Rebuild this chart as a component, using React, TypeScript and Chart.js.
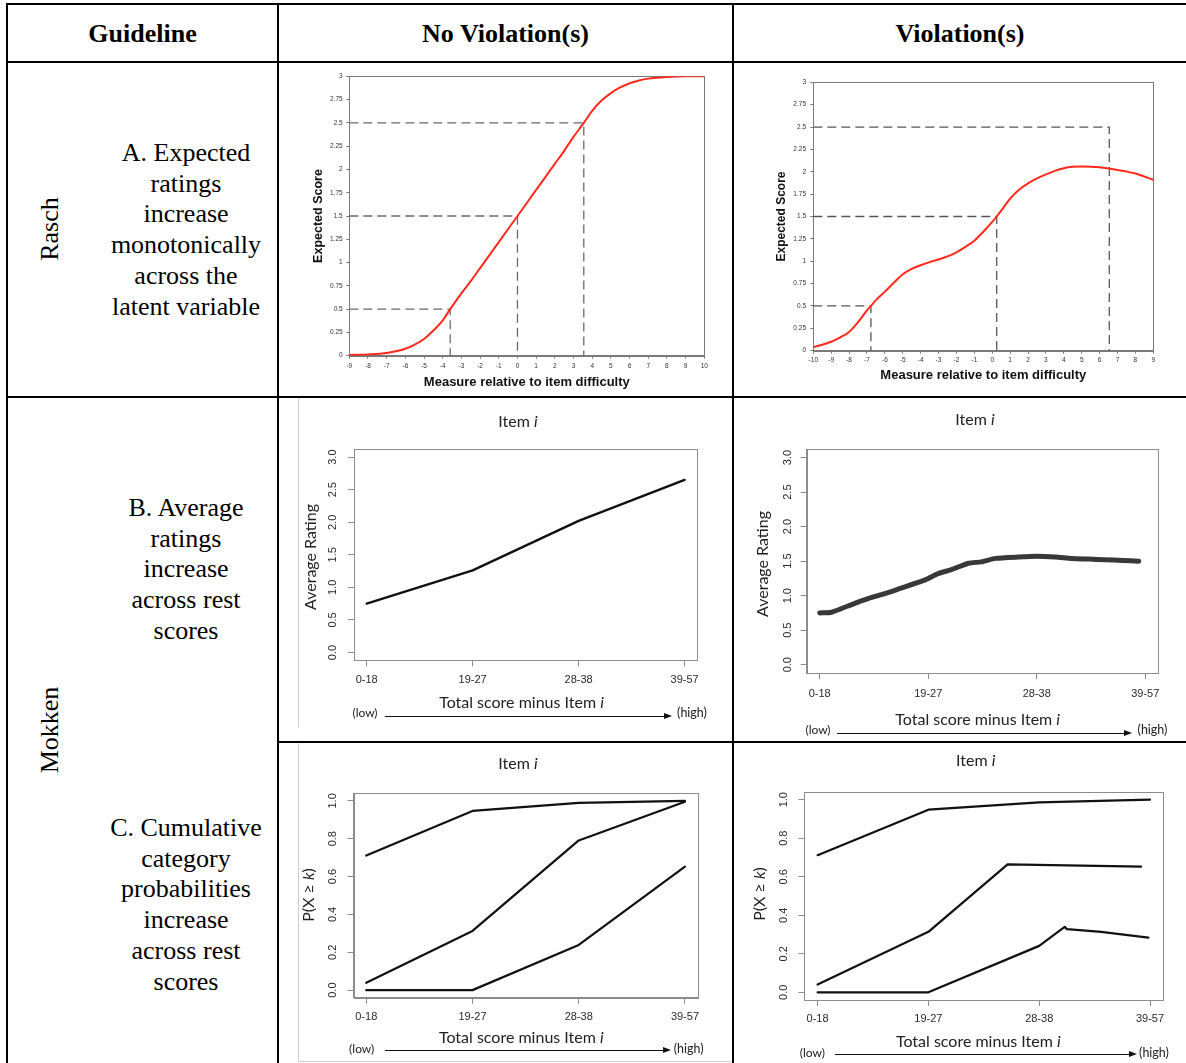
import React, { useEffect, useRef } from "react";
import { Chart, registerables } from "chart.js";

Chart.register(...registerables);

// ---------------- Data ----------------
// Rasch (A) — no violation
const raschMeasureNoViol = [-9, -8, -7, -6, -5.5, -5, -4.5, -4, -3.6, -3, -2.5, -2, -1.5, -1, -0.5, 0, 0.5, 1, 1.5, 2, 2.5, 3, 3.55, 4, 4.5, 5, 5.5, 6, 6.5, 7, 8, 9, 10];
const raschScoreNoViol = [0.007, 0.014, 0.03, 0.075, 0.12, 0.18, 0.27, 0.38, 0.5, 0.67, 0.8, 0.94, 1.08, 1.22, 1.36, 1.5, 1.64, 1.78, 1.92, 2.06, 2.2, 2.35, 2.5, 2.63, 2.74, 2.82, 2.88, 2.925, 2.955, 2.975, 2.993, 3.0, 3.0];
// Rasch (A) — violation
const raschMeasureViol = [-10, -9, -8.5, -8, -7.5, -7, -6.78, -6.5, -6, -5.5, -5, -4.5, -4, -3.5, -3, -2.5, -2, -1.5, -1, -0.5, 0, 0.25, 0.5, 1, 1.5, 2, 2.5, 3, 3.5, 4, 4.5, 5, 6, 7, 8, 9];
const raschScoreViol = [0.04, 0.1, 0.15, 0.21, 0.32, 0.45, 0.5, 0.565, 0.66, 0.76, 0.855, 0.915, 0.955, 0.99, 1.02, 1.055, 1.1, 1.16, 1.23, 1.33, 1.44, 1.5, 1.565, 1.7, 1.8, 1.87, 1.925, 1.97, 2.01, 2.04, 2.055, 2.06, 2.05, 2.02, 1.98, 1.91];
const raschGuideLevels = [0.5, 1.5, 2.5];
const raschGuideMeasuresNoViol = [-3.6, 0, 3.55];
const raschGuideMeasuresViol = [-6.78, 0.25, 6.54];
const raschTicksNoViol = [-9, -8, -7, -6, -5, -4, -3, -2, -1, 0, 1, 2, 3, 4, 5, 6, 7, 8, 9, 10];
const raschTicksViol = [-10, -9, -8, -7, -6, -5, -4, -3, -2, -1, 0, 1, 2, 3, 4, 5, 6, 7, 8, 9];
const raschScoreTicks = [0, 0.25, 0.5, 0.75, 1, 1.25, 1.5, 1.75, 2, 2.25, 2.5, 2.75, 3];

// Mokken (B, C)
const restScoreGroups = ["0-18", "19-27", "28-38", "39-57"];
const restScorePositions = [1, 2, 3, 4];
const avgRatingTicks = [0, 0.5, 1, 1.5, 2, 2.5, 3];
const probTicks = [0, 0.2, 0.4, 0.6, 0.8, 1];

const avgRatingNoViol = [0.75, 1.26, 2.02, 2.65];
const avgRatingViolPos = [1, 1.11, 1.26, 1.45, 1.6, 1.75, 1.94, 2, 2.09, 2.22, 2.37, 2.49, 2.62, 2.83, 3, 3.17, 3.32, 3.48, 3.63, 3.79, 3.94];
const avgRatingViol = [0.75, 0.76, 0.85, 0.96, 1.03, 1.11, 1.21, 1.25, 1.32, 1.38, 1.47, 1.49, 1.54, 1.56, 1.57, 1.56, 1.54, 1.53, 1.52, 1.51, 1.5];

const cumProbNoViolK1 = [0.711, 0.947, 0.989, 1.0];
const cumProbNoViolK2 = [0.039, 0.313, 0.791, 0.995];
const cumProbNoViolK3 = [0, 0, 0.239, 0.653];

const cumProbViolK1Pos = [1, 2, 3, 4];
const cumProbViolK1 = [0.712, 0.948, 0.986, 1.0];
const cumProbViolK2Pos = [1, 2, 2.715, 3.92];
const cumProbViolK2 = [0.04, 0.314, 0.664, 0.653];
const cumProbViolK3Pos = [1, 2, 3, 3.23, 3.25, 3.56, 3.985];
const cumProbViolK3 = [0, 0, 0.241, 0.34, 0.328, 0.314, 0.284];

// ---------------- Helpers ----------------
const SANS = "'Liberation Sans', Arial, Helvetica, sans-serif";
const SERIF = "'Liberation Serif', 'Times New Roman', serif";
const HUMAN = "Lato, 'Open Sans', sans-serif";

const framePlugin = {
  id: "frame",
  beforeDatasetsDraw(chart: any, _args: any, opts: any) {
    const { ctx, chartArea } = chart;
    ctx.save();
    ctx.strokeStyle = opts.color || "#888";
    ctx.lineWidth = opts.width || 1;
    const l = Math.round(chartArea.left) + 0.5;
    const t = Math.round(chartArea.top) + 0.5;
    const r = Math.round(chartArea.right) + 0.5;
    const b = Math.round(chartArea.bottom) + 0.5;
    ctx.strokeRect(l, t, r - l, b - t);
    ctx.restore();
  },
};

const pts = (xs: number[], ys: number[]) => xs.map((x, i) => ({ x, y: ys[i] }));

type Lay = { yW: number; top: number; right: number; xH: number; xTickPad: number; yTickPad: number };

function raschConfig(
  measures: number[],
  scores: number[],
  guideMeasures: number[],
  xTicks: number[],
  lay: Lay,
  t: { yPad: number; yFont: number; xPad: number; xFont: number; guideColor: string; frame: string }
) {
  const xMin = xTicks[0];
  const xMax = xTicks[xTicks.length - 1];
  const guides = guideMeasures.map((gx, i) => ({
    data: [
      { x: xMin, y: raschGuideLevels[i] },
      { x: gx, y: raschGuideLevels[i] },
      { x: gx, y: 0 },
    ],
    borderColor: t.guideColor,
    borderWidth: 1.3,
    borderDash: [9, 5],
    pointRadius: 0,
    tension: 0,
    fill: false,
  }));
  return {
    type: "line",
    data: {
      datasets: [
        {
          data: pts(measures, scores),
          borderColor: "#ff2a1c",
          borderWidth: 2,
          pointRadius: 0,
          cubicInterpolationMode: "monotone",
          fill: false,
        },
        ...guides,
      ],
    },
    plugins: [framePlugin],
    options: {
      responsive: false,
      animation: false,
      devicePixelRatio: 1,
      layout: { padding: { left: 0, top: lay.top, right: lay.right, bottom: 0 } },
      plugins: { legend: { display: false }, tooltip: { enabled: false }, frame: { color: t.frame, width: 1 } },
      scales: {
        x: {
          type: "linear",
          min: xMin,
          max: xMax,
          afterFit: (s: any) => {
            s.height = lay.xH;
          },
          afterBuildTicks: (s: any) => {
            s.ticks = xTicks.map((v) => ({ value: v }));
          },
          ticks: {
            font: { family: SANS, size: 6.5 },
            color: "#333",
            padding: lay.xTickPad,
            maxRotation: 0,
            minRotation: 0,
            autoSkip: false,
            callback: (v: any) => String(v),
          },
          grid: { drawOnChartArea: false, tickLength: 3, color: t.frame },
          border: { color: t.frame },
          title: {
            display: true,
            text: "Measure relative to item difficulty",
            font: { family: SANS, size: t.xFont, weight: "bold" },
            color: "#111",
            padding: { top: 0, bottom: t.xPad },
          },
        },
        y: {
          type: "linear",
          min: 0,
          max: 3,
          afterFit: (s: any) => {
            s.width = lay.yW;
          },
          afterBuildTicks: (s: any) => {
            s.ticks = raschScoreTicks.map((v) => ({ value: v }));
          },
          ticks: {
            font: { family: SANS, size: 6.5 },
            color: "#333",
            padding: lay.yTickPad,
            autoSkip: false,
            callback: (v: any) => String(v),
          },
          grid: { drawOnChartArea: false, tickLength: 3, color: t.frame },
          border: { color: t.frame },
          title: {
            display: true,
            text: "Expected Score",
            font: { family: SANS, size: t.yFont, weight: "bold" },
            color: "#111",
            padding: { top: t.yPad, bottom: 0 },
          },
        },
      },
    },
  };
}

type LineSpec = { x: number[]; y: number[]; width: number; color: string; tension: number };

function mokkenConfig(lines: LineSpec[], yTicks: number[], pad: number, lay: Lay) {
  const yMin = yTicks[0];
  const yMax = yTicks[yTicks.length - 1];
  const yr = (yMax - yMin) * 0.04;
  const xFirst = restScorePositions[0];
  const xLast = restScorePositions[restScorePositions.length - 1];
  const xr = (xLast - xFirst) * 0.04;
  const frame = "#8c8c8c";
  return {
    type: "line",
    data: {
      datasets: lines.map((l) => ({
        data: pts(l.x, l.y),
        borderColor: l.color,
        borderWidth: l.width,
        pointRadius: 0,
        tension: l.tension,
        borderCapStyle: "round",
        borderJoinStyle: "round",
        fill: false,
      })),
    },
    plugins: [framePlugin],
    options: {
      responsive: false,
      animation: false,
      devicePixelRatio: 1,
      layout: { padding: { left: 0, top: lay.top, right: lay.right, bottom: 0 } },
      plugins: { legend: { display: false }, tooltip: { enabled: false }, frame: { color: frame, width: 1 } },
      scales: {
        x: {
          type: "linear",
          min: xFirst - xr,
          max: xLast + xr,
          afterFit: (s: any) => {
            s.height = lay.xH;
          },
          afterBuildTicks: (s: any) => {
            s.ticks = restScorePositions.map((v) => ({ value: v }));
          },
          ticks: {
            font: { family: SANS, size: 11 },
            color: "#2a2a2a",
            padding: lay.xTickPad,
            maxRotation: 0,
            minRotation: 0,
            autoSkip: false,
            callback: (_v: any, i: number) => restScoreGroups[i],
          },
          grid: { drawOnChartArea: false, tickLength: 6, color: frame },
          border: { color: frame },
        },
        y: {
          type: "linear",
          min: yMin - yr,
          max: yMax + yr,
          afterFit: (s: any) => {
            s.width = lay.yW;
          },
          afterBuildTicks: (s: any) => {
            s.ticks = yTicks.map((v) => ({ value: v }));
          },
          ticks: {
            font: { family: SANS, size: 11 },
            color: "#2a2a2a",
            padding: lay.yTickPad,
            minRotation: 90,
            maxRotation: 90,
            crossAlign: "center",
            autoSkip: false,
            callback: (v: any) => Number(v).toFixed(pad),
          },
          grid: { drawOnChartArea: false, tickLength: 6, color: frame },
          border: { color: frame },
        },
      },
    },
  };
}

function ChartBox({ left, top, width, height, make }: { left: number; top: number; width: number; height: number; make: () => any }) {
  const ref = useRef<HTMLCanvasElement>(null);
  useEffect(() => {
    const chart = new Chart(ref.current as HTMLCanvasElement, make());
    return () => chart.destroy();
  }, []);
  return (
    <canvas
      ref={ref}
      width={width}
      height={height}
      style={{ position: "absolute", left, top, width, height }}
    />
  );
}

function Txt({ x, y, size, family, weight, rotate, children, color }: any) {
  return (
    <div
      style={{
        position: "absolute",
        left: x,
        top: y,
        transform: `translate(-50%, -50%)${rotate ? " rotate(-90deg)" : ""}`,
        whiteSpace: "nowrap",
        fontSize: size,
        fontFamily: family,
        fontWeight: weight || "normal",
        lineHeight: 1,
        color: color || "#000",
      }}
    >
      {children}
    </div>
  );
}

function Block({ x, y, lines }: { x: number; y: number; lines: string[] }) {
  return (
    <div
      style={{
        position: "absolute",
        left: x,
        top: y,
        transform: "translate(-50%, -50%)",
        fontFamily: SERIF,
        fontSize: 26,
        lineHeight: "30.7px",
        textAlign: "center",
        whiteSpace: "nowrap",
        color: "#000",
      }}
    >
      {lines.map((l, i) => (
        <div key={i}>{l}</div>
      ))}
    </div>
  );
}

function Arrow({ x1, x2, y }: { x1: number; x2: number; y: number }) {
  return (
    <>
      <div style={{ position: "absolute", left: x1, top: y - 0.75, width: x2 - x1 - 6, height: 1.5, background: "#111" }} />
      <div
        style={{
          position: "absolute",
          left: x2 - 8,
          top: y - 3.5,
          width: 0,
          height: 0,
          borderTop: "3.5px solid transparent",
          borderBottom: "3.5px solid transparent",
          borderLeft: "8px solid #111",
        }}
      />
    </>
  );
}

function Line({ l, t, w, h, c }: { l: number; t: number; w: number; h: number; c?: string }) {
  return <div style={{ position: "absolute", left: l, top: t, width: w, height: h, background: c || "#000" }} />;
}

type Over = { item: [number, number]; yTitle: [number, number]; yText: any; xTitle: [number, number]; low: [number, number]; high: [number, number]; arrow: [number, number, number] };

function MokkenOverlay({ o }: { o: Over }) {
  return (
    <>
      <Txt x={o.item[0]} y={o.item[1]} size={16} family={HUMAN} color="#222">
        Item <i>i</i>
      </Txt>
      <Txt x={o.yTitle[0]} y={o.yTitle[1]} size={16} family={HUMAN} rotate color="#222">
        {o.yText}
      </Txt>
      <Txt x={o.xTitle[0]} y={o.xTitle[1]} size={16} family={HUMAN} color="#222">
        Total score minus Item <i>i</i>
      </Txt>
      <Txt x={o.low[0]} y={o.low[1]} size={12} family={HUMAN} color="#222">
        (low)
      </Txt>
      <Txt x={o.high[0]} y={o.high[1]} size={12.5} family={HUMAN} color="#222">
        (high)
      </Txt>
      <Arrow x1={o.arrow[0]} x2={o.arrow[1]} y={o.arrow[2]} />
    </>
  );
}

export default function App() {
  const blk = "#000";
  return (
    <div
      style={{
        position: "absolute",
        left: 0,
        top: 0,
        width: 1186,
        height: 1063,
        overflow: "hidden",
        background: "#fff",
      }}
    >
      {/* Table rules */}
      <Line l={6} t={3} w={1180} h={2} c={blk} />
      <Line l={6} t={61} w={1180} h={2} c={blk} />
      <Line l={6} t={396} w={1180} h={2} c={blk} />
      <Line l={277} t={741} w={909} h={2} c={blk} />
      <Line l={6} t={3} w={2} h={1060} c={blk} />
      <Line l={277} t={3} w={2} h={1060} c={blk} />
      <Line l={732} t={3} w={2} h={1060} c={blk} />

      {/* faint picture frames */}
      <Line l={298} t={398} w={1} h={329} c="#cfcfcf" />
      <Line l={298} t={743} w={1} h={319} c="#cfcfcf" />
      <Line l={298} t={1061} w={434} h={1} c="#cfcfcf" />

      {/* Header */}
      <Txt x={142.5} y={34} size={26} family={SERIF} weight="bold">Guideline</Txt>
      <Txt x={505.5} y={34} size={26} family={SERIF} weight="bold">No Violation(s)</Txt>
      <Txt x={960} y={34} size={26} family={SERIF} weight="bold">Violation(s)</Txt>

      {/* Left column */}
      <Txt x={50} y={229} size={26} family={SERIF} rotate>Rasch</Txt>
      <Txt x={50} y={730} size={26} family={SERIF} rotate>Mokken</Txt>
      <Block x={186} y={230} lines={["A. Expected", "ratings", "increase", "monotonically", "across the", "latent variable"]} />
      <Block x={186} y={570} lines={["B. Average", "ratings", "increase", "across rest", "scores"]} />
      <Block x={186} y={905} lines={["C. Cumulative", "category", "probabilities", "increase", "across rest", "scores"]} />

      {/* Rasch charts */}
      <ChartBox
        left={279}
        top={63}
        width={453}
        height={333}
        make={() =>
          raschConfig(raschMeasureNoViol, raschScoreNoViol, raschGuideMeasuresNoViol, raschTicksNoViol,
            { yW: 70.3, top: 13.3, right: 27.7, xH: 40.3, xTickPad: 3.4, yTickPad: 3.6 },
            { yPad: 32.5, yFont: 12.5, xPad: 6.2, xFont: 13, guideColor: "#6a6a6a", frame: "#7a7a7a" })
        }
      />
      <ChartBox
        left={734}
        top={63}
        width={452}
        height={333}
        make={() =>
          raschConfig(raschMeasureViol, raschScoreViol, raschGuideMeasuresViol, raschTicksViol,
            { yW: 79.3, top: 19.3, right: 32.7, xH: 45.3, xTickPad: 2.7, yTickPad: 4.3 },
            { yPad: 40.5, yFont: 12, xPad: 12.9, xFont: 13, guideColor: "#555", frame: "#7a7a7a" })
        }
      />

      {/* Mokken B */}
      <ChartBox
        left={279}
        top={398}
        width={453}
        height={343}
        make={() =>
          mokkenConfig(
            [{ x: restScorePositions, y: avgRatingNoViol, width: 2.4, color: "#111", tension: 0 }],
            avgRatingTicks, 1,
            { yW: 75, top: 51.3, right: 34.7, xH: 80.7, xTickPad: 7.4, yTickPad: 7.1 })
        }
      />
      <ChartBox
        left={734}
        top={398}
        width={452}
        height={343}
        make={() =>
          mokkenConfig(
            [{ x: avgRatingViolPos, y: avgRatingViol, width: 5, color: "#383838", tension: 0.2 }],
            avgRatingTicks, 1,
            { yW: 72.7, top: 51.3, right: 27.7, xH: 68, xTickPad: 8.1, yTickPad: 4.8 })
        }
      />

      {/* Mokken C */}
      <ChartBox
        left={279}
        top={743}
        width={453}
        height={320}
        make={() =>
          mokkenConfig(
            [
              { x: restScorePositions, y: cumProbNoViolK1, width: 2.2, color: "#111", tension: 0 },
              { x: restScorePositions, y: cumProbNoViolK2, width: 2.2, color: "#111", tension: 0 },
              { x: restScorePositions, y: cumProbNoViolK3, width: 2.2, color: "#111", tension: 0 },
            ],
            probTicks, 1,
            { yW: 74.5, top: 50.3, right: 34.3, xH: 65.3, xTickPad: 6.7, yTickPad: 6.6 })
        }
      />
      <ChartBox
        left={734}
        top={743}
        width={452}
        height={320}
        make={() =>
          mokkenConfig(
            [
              { x: cumProbViolK1Pos, y: cumProbViolK1, width: 2.2, color: "#111", tension: 0 },
              { x: cumProbViolK2Pos, y: cumProbViolK2, width: 2.2, color: "#111", tension: 0 },
              { x: cumProbViolK3Pos, y: cumProbViolK3, width: 2.2, color: "#111", tension: 0 },
            ],
            probTicks, 1,
            { yW: 70.3, top: 49, right: 22.7, xH: 63, xTickPad: 6.7, yTickPad: 6.7 })
        }
      />

      {/* Mokken overlays */}
      <MokkenOverlay
        o={{ item: [518, 421], yTitle: [310, 557], yText: "Average Rating", xTitle: [521.5, 702], low: [365, 713], high: [692, 713], arrow: [385, 672, 716.3] }}
      />
      <MokkenOverlay
        o={{ item: [975, 419], yTitle: [761.7, 564], yText: "Average Rating", xTitle: [977.7, 718.7], low: [818, 730], high: [1152.5, 730], arrow: [836.7, 1132, 733.7] }}
      />
      <MokkenOverlay
        o={{ item: [518, 762.7], yTitle: [308.3, 894.5], yText: <>P(X ≥ <i>k</i>)</>, xTitle: [521.3, 1037], low: [361.7, 1049.3], high: [688.7, 1049.3], arrow: [385, 671, 1050.3] }}
      />
      <MokkenOverlay
        o={{ item: [975.7, 760], yTitle: [759, 894.3], yText: <>P(X ≥ <i>k</i>)</>, xTitle: [978.3, 1041], low: [812.3, 1052.7], high: [1154, 1052.7], arrow: [835, 1137, 1054.3] }}
      />
    </div>
  );
}
